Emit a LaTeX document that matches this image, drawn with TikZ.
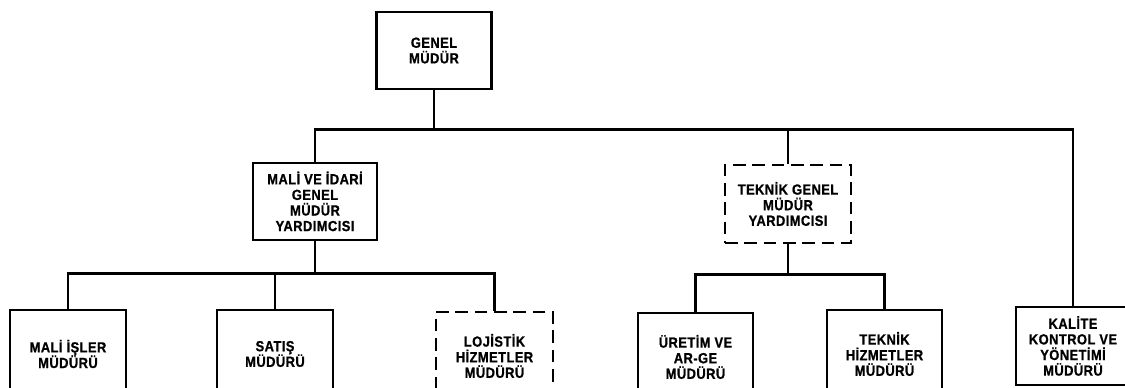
\documentclass[tikz,border=0pt]{standalone}
\usepackage{fontspec}
\setmainfont{Liberation Sans}[FakeStretch=0.88, LetterSpace=3, BoldFeatures={FakeBold=0.8}]
\usepackage{tikz}
\usetikzlibrary{positioning}

\begin{document}
\begin{tikzpicture}[x=0.75pt,y=-0.75pt]
\tikzstyle{mbox}=[draw, line width=2pt, align=center, inner sep=0pt,
  font=\bfseries\fontsize{11}{11.7}\selectfont]
\tikzstyle{dbox}=[mbox, dash pattern=on 9.5pt off 5pt]
\tikzstyle{conn}=[line width=1.8pt]
\useasboundingbox (0,0) rectangle (1125,387);
% top level
\node[mbox, minimum width=86.25pt, minimum height=57.75pt] (genel) at (434,50.5) {GENEL\\MÜDÜR};
% assistants
\node[mbox, minimum width=93pt, minimum height=57.75pt] (mali) at (315,201.5) {MALİ VE İDARİ\\GENEL\\MÜDÜR\\YARDIMCISI};
\node[dbox, minimum width=94.5pt, minimum height=58.5pt] (teknik) at (788,204) {TEKNİK GENEL\\MÜDÜR\\YARDIMCISI};
% managers
\node[mbox, minimum width=87pt, minimum height=66pt] (malisler) at (68,354) {MALİ İŞLER\\MÜDÜRÜ};
\node[mbox, minimum width=87pt, minimum height=66pt] (satis) at (275,354) {SATIŞ\\MÜDÜRÜ};
\node[dbox, minimum width=87.75pt, minimum height=66pt] (lojistik) at (494.5,356) {LOJİSTİK\\HİZMETLER\\MÜDÜRÜ};
\node[mbox, minimum width=86.25pt, minimum height=66pt] (uretim) at (695.5,357) {ÜRETİM VE\\AR-GE\\MÜDÜRÜ};
\node[mbox, minimum width=86.25pt, minimum height=66pt] (teknikhiz) at (884.5,354) {TEKNİK\\HİZMETLER\\MÜDÜRÜ};
\node[mbox, minimum width=85.5pt, minimum height=58.5pt] (kalite) at (1073,346) {KALİTE\\KONTROL VE\\YÖNETİMİ\\MÜDÜRÜ};
% connectors
\draw[conn] (genel.south) -- ++(0,39) coordinate (g1);
\draw[conn] (mali.north) |- (g1) -| (kalite.north);
\draw[conn] (teknik.north) -- (teknik.north |- g1);
\draw[conn] (mali.south) -- ++(0,32) coordinate (m1);
\draw[conn] (malisler.north) |- (m1) -| (lojistik.north);
\draw[conn] (satis.north) -- (satis.north |- m1);
\draw[conn] (teknik.south) -- ++(0,30) coordinate (t1);
\draw[conn] (uretim.north) |- (t1) -| (teknikhiz.north);
\end{tikzpicture}
\end{document}
